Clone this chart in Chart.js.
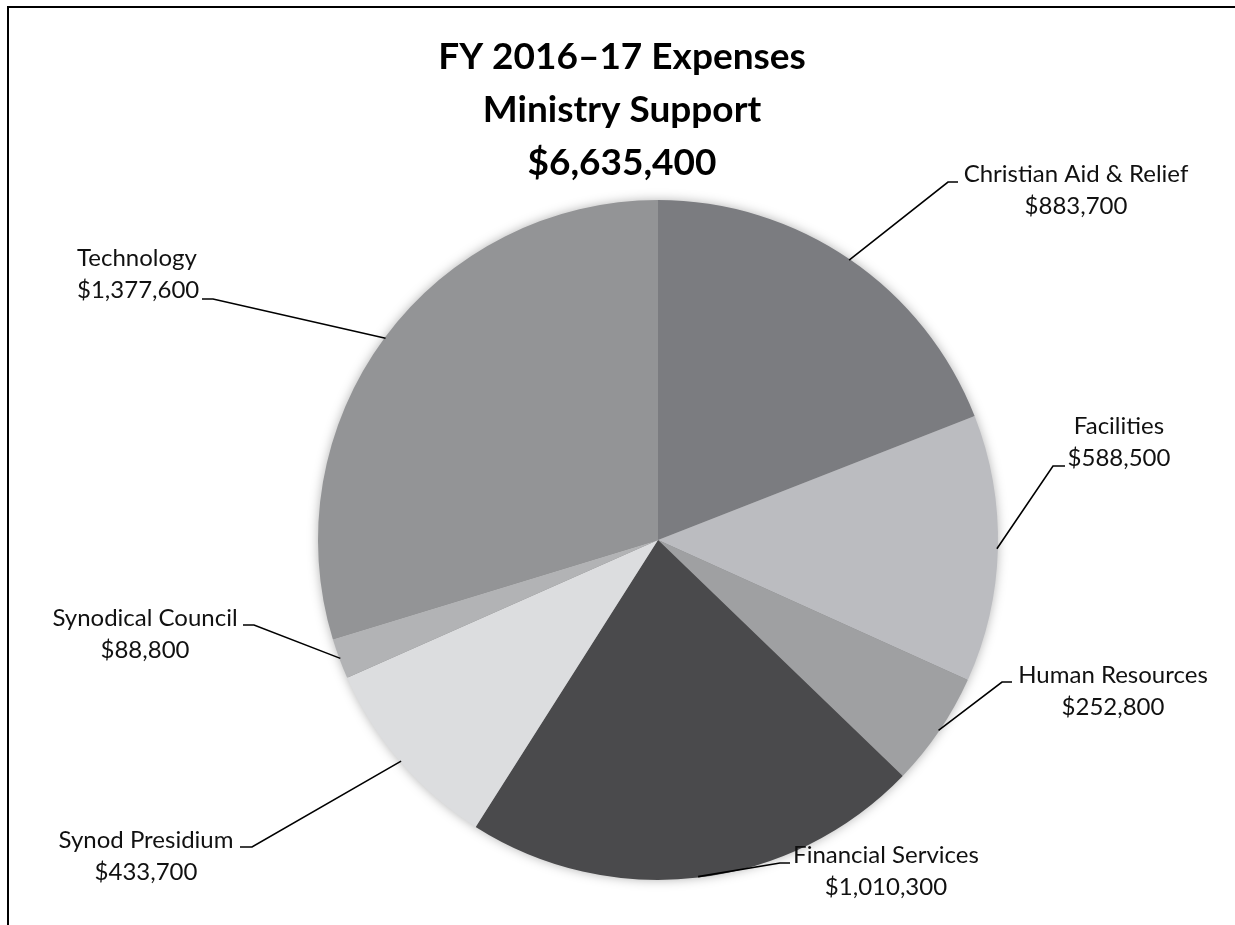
<!DOCTYPE html>
<html>
<head>
<meta charset="utf-8">
<script src="https://cdn.jsdelivr.net/npm/chart.js@4.4.1/dist/chart.umd.min.js"></script>
<style>
  html, body { margin: 0; background: #fff; overflow: hidden; }
  #wrap { position: relative; width: 1235px; height: 925px; overflow: hidden; }
  #frame { position: absolute; left: 7px; top: 6px; width: 1400px; height: 1000px;
           border-left: 2px solid #000; border-top: 2px solid #000; }
  canvas { position: absolute; left: 0; top: 0; }
</style>
</head>
<body>
<div id="wrap">
  <canvas id="pie" width="1235" height="925"></canvas>
  <div id="frame"></div>
</div>
<script>
const titleLines = ["FY 2016\u201317 Expenses", "Ministry Support", "$6,635,400"];
const categories = ["Christian Aid & Relief", "Facilities", "Human Resources", "Financial Services",
                    "Synod Presidium", "Synodical Council", "Technology"];
const amounts = [883700, 588500, 252800, 1010300, 433700, 88800, 1377600];

const sliceColors = ["#7b7c80", "#bbbcc0", "#9fa0a2", "#4a4a4c", "#dcdddf", "#b2b3b5", "#939496"];

// where each label sits (text x / first line y, alignment) and the elbow of its leader line
const labelSpots = [
  { x: 1076, y: 174, align: "center", elbow: [948, 182], stub: 958 },
  { x: 1119, y: 426, align: "center", elbow: [1053, 466], stub: 1065 },
  { x: 1113, y: 675, align: "center", elbow: [1002, 682], stub: 1012 },
  { x: 886, y: 855, align: "center", elbow: [780, 863], stub: 790 },
  { x: 146, y: 840, align: "center", elbow: [252, 847], stub: 240 },
  { x: 145, y: 618, align: "center", elbow: [254, 625], stub: 243 },
  { x: 77, y: 258, align: "left", elbow: [213, 299], stub: 202 }
];

const fmt = v => "$" + v.toLocaleString("en-US");

const pieShadow = {
  id: "pieShadow",
  beforeDatasetsDraw(chart) {
    const arc = chart.getDatasetMeta(0).data[0];
    if (!arc) return;
    const ctx = chart.ctx;
    ctx.save();
    ctx.shadowColor = "rgba(0,0,0,0.35)";
    ctx.shadowBlur = 12;
    ctx.fillStyle = "#888";
    ctx.beginPath();
    ctx.arc(arc.x, arc.y, arc.outerRadius - 1, 0, Math.PI * 2);
    ctx.fill();
    ctx.restore();
  }
};

const labelsPlugin = {
  id: "labelsPlugin",
  afterDraw(chart) {
    const ctx = chart.ctx;
    ctx.save();
    // title
    ctx.fillStyle = "#000";
    ctx.textAlign = "center";
    ctx.textBaseline = "middle";
    ctx.font = "bold 37px Lato";
    titleLines.forEach((t, i) => ctx.fillText(t, 622, 57 + i * 53));

    // slice labels + leader lines
    ctx.font = "24px Lato";
    ctx.strokeStyle = "#000";
    ctx.lineWidth = 1.6;
    chart.getDatasetMeta(0).data.forEach((arc, i) => {
      const spot = labelSpots[i];
      const mid = (arc.startAngle + arc.endAngle) / 2;
      const px = arc.x + Math.cos(mid) * (arc.outerRadius - 1);
      const py = arc.y + Math.sin(mid) * (arc.outerRadius - 1);
      ctx.beginPath();
      ctx.moveTo(px, py);
      ctx.lineTo(spot.elbow[0], spot.elbow[1]);
      ctx.lineTo(spot.stub, spot.elbow[1]);
      ctx.stroke();

      ctx.fillStyle = "#111";
      ctx.textAlign = spot.align;
      ctx.fillText(categories[i], spot.x, spot.y);
      ctx.fillText(fmt(amounts[i]), spot.x, spot.y + 32);
    });
    ctx.restore();
  }
};

new Chart(document.getElementById("pie"), {
  type: "pie",
  data: {
    labels: categories,
    datasets: [{
      data: amounts,
      backgroundColor: sliceColors,
      borderWidth: 0
    }]
  },
  options: {
    responsive: false,
    animation: false,
    layout: { padding: { top: 200, bottom: 45, left: 318, right: 237 } },
    plugins: {
      legend: { display: false },
      tooltip: { enabled: false },
      title: { display: false }
    }
  },
  plugins: [pieShadow, labelsPlugin]
});
</script>
</body>
</html>
